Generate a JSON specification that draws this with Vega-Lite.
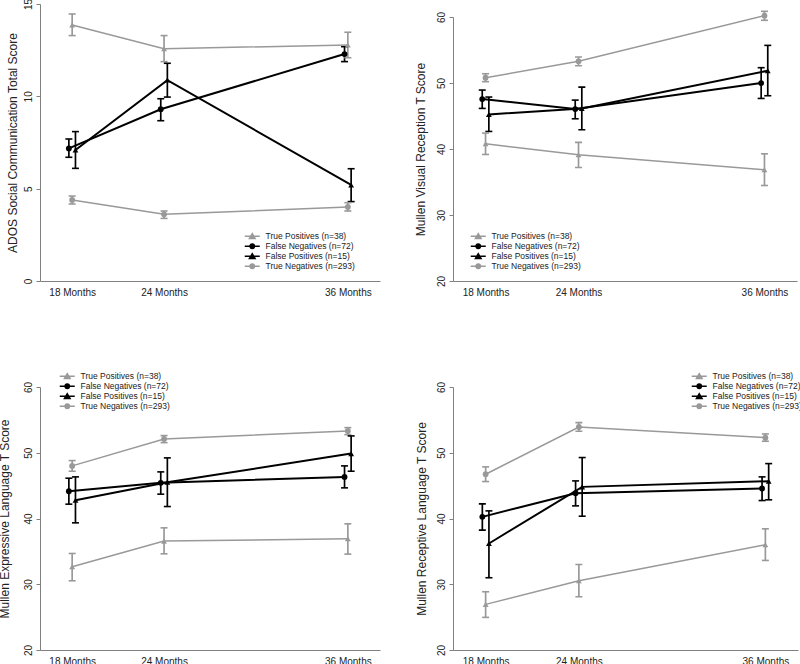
{
  "$schema": "https://vega.github.io/schema/vega-lite/v6.json",
  "background": "white",
  "padding": {"left": -2, "top": -2, "right": 0, "bottom": 0},
  "columns": 2,
  "align": "each",
  "spacing": {"row": 72, "column": 34},
  "datasets": {
    "p1": [
      {"group": "True Positives (n=38)", "month": 18, "mean": 13.86, "lo": 13.29, "hi": 14.46},
      {"group": "True Positives (n=38)", "month": 24, "mean": 12.58, "lo": 11.88, "hi": 13.29},
      {"group": "True Positives (n=38)", "month": 36, "mean": 12.78, "lo": 12.09, "hi": 13.47},
      {"group": "False Negatives (n=72)", "month": 18, "mean": 7.18, "lo": 6.70, "hi": 7.69},
      {"group": "False Negatives (n=72)", "month": 24, "mean": 9.30, "lo": 8.68, "hi": 9.87},
      {"group": "False Negatives (n=72)", "month": 36, "mean": 12.29, "lo": 11.88, "hi": 12.69},
      {"group": "False Positives (n=15)", "month": 18, "mean": 7.09, "lo": 6.10, "hi": 8.09},
      {"group": "False Positives (n=15)", "month": 24, "mean": 10.88, "lo": 9.96, "hi": 11.79},
      {"group": "False Positives (n=15)", "month": 36, "mean": 5.20, "lo": 4.30, "hi": 6.08},
      {"group": "True Negatives (n=293)", "month": 18, "mean": 4.39, "lo": 4.17, "hi": 4.60},
      {"group": "True Negatives (n=293)", "month": 24, "mean": 3.61, "lo": 3.39, "hi": 3.79},
      {"group": "True Negatives (n=293)", "month": 36, "mean": 4.01, "lo": 3.79, "hi": 4.24}
    ],
    "p2": [
      {"group": "True Positives (n=38)", "month": 18, "mean": 40.79, "lo": 39.17, "hi": 42.41},
      {"group": "True Positives (n=38)", "month": 24, "mean": 39.12, "lo": 37.2, "hi": 41.0},
      {"group": "True Positives (n=38)", "month": 36, "mean": 36.85, "lo": 34.47, "hi": 39.27},
      {"group": "False Negatives (n=72)", "month": 18, "mean": 47.56, "lo": 46.15, "hi": 48.93},
      {"group": "False Negatives (n=72)", "month": 24, "mean": 46.05, "lo": 44.58, "hi": 47.41},
      {"group": "False Negatives (n=72)", "month": 36, "mean": 49.99, "lo": 47.66, "hi": 52.32},
      {"group": "False Positives (n=15)", "month": 18, "mean": 45.24, "lo": 42.66, "hi": 47.87},
      {"group": "False Positives (n=15)", "month": 24, "mean": 46.15, "lo": 42.91, "hi": 49.38},
      {"group": "False Positives (n=15)", "month": 36, "mean": 51.86, "lo": 48.07, "hi": 55.70},
      {"group": "True Negatives (n=293)", "month": 18, "mean": 50.8, "lo": 50.2, "hi": 51.4},
      {"group": "True Negatives (n=293)", "month": 24, "mean": 53.28, "lo": 52.62, "hi": 53.93},
      {"group": "True Negatives (n=293)", "month": 36, "mean": 60.2, "lo": 59.5, "hi": 60.86}
    ],
    "p3": [
      {"group": "True Positives (n=38)", "month": 18, "mean": 32.66, "lo": 30.53, "hi": 34.68},
      {"group": "True Positives (n=38)", "month": 24, "mean": 36.56, "lo": 34.63, "hi": 38.58},
      {"group": "True Positives (n=38)", "month": 36, "mean": 36.91, "lo": 34.58, "hi": 39.19},
      {"group": "False Negatives (n=72)", "month": 18, "mean": 44.15, "lo": 42.18, "hi": 46.13},
      {"group": "False Negatives (n=72)", "month": 24, "mean": 45.42, "lo": 43.70, "hi": 47.09},
      {"group": "False Negatives (n=72)", "month": 36, "mean": 46.33, "lo": 44.66, "hi": 48.0},
      {"group": "False Positives (n=15)", "month": 18, "mean": 42.78, "lo": 39.34, "hi": 46.33},
      {"group": "False Positives (n=15)", "month": 24, "mean": 45.52, "lo": 41.82, "hi": 49.22},
      {"group": "False Positives (n=15)", "month": 36, "mean": 49.87, "lo": 47.19, "hi": 52.56},
      {"group": "True Negatives (n=293)", "month": 18, "mean": 48.0, "lo": 47.19, "hi": 48.81},
      {"group": "True Negatives (n=293)", "month": 24, "mean": 52.1, "lo": 51.54, "hi": 52.61},
      {"group": "True Negatives (n=293)", "month": 36, "mean": 53.32, "lo": 52.76, "hi": 53.82}
    ],
    "p4": [
      {"group": "True Positives (n=38)", "month": 18, "mean": 26.94, "lo": 24.96, "hi": 28.86},
      {"group": "True Positives (n=38)", "month": 24, "mean": 30.53, "lo": 28.10, "hi": 33.01},
      {"group": "True Positives (n=38)", "month": 36, "mean": 36.0, "lo": 33.62, "hi": 38.43},
      {"group": "False Negatives (n=72)", "month": 18, "mean": 40.25, "lo": 38.23, "hi": 42.23},
      {"group": "False Negatives (n=72)", "month": 24, "mean": 43.85, "lo": 41.92, "hi": 45.72},
      {"group": "False Negatives (n=72)", "month": 36, "mean": 44.56, "lo": 42.73, "hi": 46.33},
      {"group": "False Positives (n=15)", "month": 18, "mean": 36.20, "lo": 30.99, "hi": 41.16},
      {"group": "False Positives (n=15)", "month": 24, "mean": 44.81, "lo": 40.35, "hi": 49.27},
      {"group": "False Positives (n=15)", "month": 36, "mean": 45.67, "lo": 42.84, "hi": 48.35},
      {"group": "True Negatives (n=293)", "month": 18, "mean": 46.73, "lo": 45.62, "hi": 47.85},
      {"group": "True Negatives (n=293)", "month": 24, "mean": 53.92, "lo": 53.27, "hi": 54.58},
      {"group": "True Negatives (n=293)", "month": 36, "mean": 52.30, "lo": 51.75, "hi": 52.86}
    ]
  },
  "resolve": {
    "scale": {"color": "independent", "shape": "independent", "x": "independent", "y": "independent"},
    "legend": {"color": "independent", "shape": "independent"}
  },
  "concat": [
    {
      "width": 340, "height": 277,
      "data": {"name": "p1"},
      "encoding": {
        "x": {"field": "month", "type": "quantitative", "scale": {"domain": [15.9, 38.1], "nice": false, "zero": false},
              "axis": {"values": [18, 24, 36], "labelExpr": "datum.value + ' Months'", "ticks": false, "tickSize": 0, "labelPadding": 6, "title": null, "grid": false, "labelFlush": false, "labelOverlap": false}},
        "y": {"field": "mean", "type": "quantitative", "title": "ADOS Social Communication Total Score", "scale": {"domain": [0, 15], "nice": false, "zero": false},
           "axis": {"values": [0, 5, 10, 15], "tickSize": 4, "labelAngle": 270, "labelAlign": "center", "labelBaseline": "bottom", "labelPadding": 3, "titlePadding": 4, "grid": false}},
        "color": {"field": "group", "type": "nominal",
          "scale": {"domain": ["True Positives (n=38)", "False Negatives (n=72)", "False Positives (n=15)", "True Negatives (n=293)"], "range": ["#999999", "#000000", "#000000", "#999999"]},
          "legend": {"title": null, "orient": "none", "legendX": 208, "legendY": 228, "symbolSize": 36, "symbolStrokeWidth": 1.6, "symbolOpacity": 1, "labelFontSize": 8.5, "rowPadding": -2, "labelOffset": 9, "padding": 0}}
      },
      "layer": [
        {"mark": {"type": "rule", "strokeWidth": 1.7, "xOffset": {"expr": "indexof('' + datum.group,'False Neg')===0 ? -3.3 : indexof('' + datum.group,'False Pos')===0 ? 3.3 : 0"}},
         "encoding": {"y": {"field": "lo", "type": "quantitative", "title": "ADOS Social Communication Total Score"}, "y2": {"field": "hi"}}},
        {"mark": {"type": "tick", "orient": "horizontal", "size": 7, "thickness": 1.6, "opacity": 1, "xOffset": {"expr": "indexof('' + datum.group,'False Neg')===0 ? -3.3 : indexof('' + datum.group,'False Pos')===0 ? 3.3 : 0"}},
         "encoding": {"y": {"field": "lo", "type": "quantitative", "title": "ADOS Social Communication Total Score"}}},
        {"mark": {"type": "tick", "orient": "horizontal", "size": 7, "thickness": 1.6, "opacity": 1, "xOffset": {"expr": "indexof('' + datum.group,'False Neg')===0 ? -3.3 : indexof('' + datum.group,'False Pos')===0 ? 3.3 : 0"}},
         "encoding": {"y": {"field": "hi", "type": "quantitative", "title": "ADOS Social Communication Total Score"}}},
        {"transform": [{"filter": {"field": "group", "oneOf": ["True Positives (n=38)", "True Negatives (n=293)"]}}],
         "mark": {"type": "line", "strokeWidth": 1.5}},
        {"transform": [{"filter": {"field": "group", "oneOf": ["False Negatives (n=72)", "False Positives (n=15)"]}}],
         "mark": {"type": "line", "strokeWidth": 2, "xOffset": {"expr": "indexof('' + datum.group,'False Neg')===0 ? -3.3 : 3.3"}}},
        {"transform": [{"filter": {"field": "group", "oneOf": ["True Positives (n=38)", "False Positives (n=15)"]}}],
         "mark": {"type": "point", "shape": "triangle-up", "filled": true, "opacity": 1, "size": 34, "strokeWidth": 0, "xOffset": {"expr": "indexof('' + datum.group,'False Pos')===0 ? 3.3 : 0"}}},
        {"transform": [{"filter": {"field": "group", "oneOf": ["False Negatives (n=72)", "True Negatives (n=293)"]}}],
         "mark": {"type": "point", "shape": "circle", "filled": true, "opacity": 1, "size": 34, "strokeWidth": 0, "xOffset": {"expr": "indexof('' + datum.group,'False Neg')===0 ? -3.3 : 0"}}},
        {"mark": {"type": "point", "filled": true, "opacity": 0, "size": 1},
         "encoding": {"shape": {"field": "group", "type": "nominal",
           "scale": {"domain": ["True Positives (n=38)", "False Negatives (n=72)", "False Positives (n=15)", "True Negatives (n=293)"], "range": ["M-2.5,0H2.5M-0.9,0.7L0,-0.8L0.9,0.7Z", "M-2.5,0H2.5M-0.7,0A0.7,0.7,0,1,0,0.7,0A0.7,0.7,0,1,0,-0.7,0Z", "M-2.5,0H2.5M-0.9,0.7L0,-0.8L0.9,0.7Z", "M-2.5,0H2.5M-0.7,0A0.7,0.7,0,1,0,0.7,0A0.7,0.7,0,1,0,-0.7,0Z"]},
           "legend": {"title": null, "orient": "none", "legendX": 208, "legendY": 228, "symbolSize": 36, "symbolStrokeWidth": 1.6, "symbolOpacity": 1, "labelFontSize": 8.5, "rowPadding": -2, "labelOffset": 9, "padding": 0}}}}
      ]
    },
    {
      "width": 344, "height": 277,
      "data": {"name": "p2"},
      "encoding": {
        "x": {"field": "month", "type": "quantitative", "scale": {"domain": [15.9, 38.1], "nice": false, "zero": false},
              "axis": {"values": [18, 24, 36], "labelExpr": "datum.value + ' Months'", "ticks": false, "tickSize": 0, "labelPadding": 6, "title": null, "grid": false, "labelFlush": false, "labelOverlap": false}},
        "y": {"field": "mean", "type": "quantitative", "title": "Mullen Visual Reception T Score", "scale": {"domain": [20, 60], "nice": false, "zero": false, "range": [277, 13]},
           "axis": {"values": [20, 30, 40, 50, 60], "tickSize": 4, "labelAngle": 270, "labelAlign": "center", "labelBaseline": "bottom", "labelPadding": 3, "titlePadding": 9, "grid": false}},
        "color": {"field": "group", "type": "nominal",
          "scale": {"domain": ["True Positives (n=38)", "False Negatives (n=72)", "False Positives (n=15)", "True Negatives (n=293)"], "range": ["#999999", "#000000", "#000000", "#999999"]},
          "legend": {"title": null, "orient": "none", "legendX": 21, "legendY": 228, "symbolSize": 36, "symbolStrokeWidth": 1.6, "symbolOpacity": 1, "labelFontSize": 8.5, "rowPadding": -2, "labelOffset": 9, "padding": 0}}
      },
      "layer": [
        {"mark": {"type": "rule", "strokeWidth": 1.7, "xOffset": {"expr": "indexof('' + datum.group,'False Neg')===0 ? -3.3 : indexof('' + datum.group,'False Pos')===0 ? 3.3 : 0"}},
         "encoding": {"y": {"field": "lo", "type": "quantitative", "title": "Mullen Visual Reception T Score"}, "y2": {"field": "hi"}}},
        {"mark": {"type": "tick", "orient": "horizontal", "size": 7, "thickness": 1.6, "opacity": 1, "xOffset": {"expr": "indexof('' + datum.group,'False Neg')===0 ? -3.3 : indexof('' + datum.group,'False Pos')===0 ? 3.3 : 0"}},
         "encoding": {"y": {"field": "lo", "type": "quantitative", "title": "Mullen Visual Reception T Score"}}},
        {"mark": {"type": "tick", "orient": "horizontal", "size": 7, "thickness": 1.6, "opacity": 1, "xOffset": {"expr": "indexof('' + datum.group,'False Neg')===0 ? -3.3 : indexof('' + datum.group,'False Pos')===0 ? 3.3 : 0"}},
         "encoding": {"y": {"field": "hi", "type": "quantitative", "title": "Mullen Visual Reception T Score"}}},
        {"transform": [{"filter": {"field": "group", "oneOf": ["True Positives (n=38)", "True Negatives (n=293)"]}}],
         "mark": {"type": "line", "strokeWidth": 1.5}},
        {"transform": [{"filter": {"field": "group", "oneOf": ["False Negatives (n=72)", "False Positives (n=15)"]}}],
         "mark": {"type": "line", "strokeWidth": 2, "xOffset": {"expr": "indexof('' + datum.group,'False Neg')===0 ? -3.3 : 3.3"}}},
        {"transform": [{"filter": {"field": "group", "oneOf": ["True Positives (n=38)", "False Positives (n=15)"]}}],
         "mark": {"type": "point", "shape": "triangle-up", "filled": true, "opacity": 1, "size": 34, "strokeWidth": 0, "xOffset": {"expr": "indexof('' + datum.group,'False Pos')===0 ? 3.3 : 0"}}},
        {"transform": [{"filter": {"field": "group", "oneOf": ["False Negatives (n=72)", "True Negatives (n=293)"]}}],
         "mark": {"type": "point", "shape": "circle", "filled": true, "opacity": 1, "size": 34, "strokeWidth": 0, "xOffset": {"expr": "indexof('' + datum.group,'False Neg')===0 ? -3.3 : 0"}}},
        {"mark": {"type": "point", "filled": true, "opacity": 0, "size": 1},
         "encoding": {"shape": {"field": "group", "type": "nominal",
           "scale": {"domain": ["True Positives (n=38)", "False Negatives (n=72)", "False Positives (n=15)", "True Negatives (n=293)"], "range": ["M-2.5,0H2.5M-0.9,0.7L0,-0.8L0.9,0.7Z", "M-2.5,0H2.5M-0.7,0A0.7,0.7,0,1,0,0.7,0A0.7,0.7,0,1,0,-0.7,0Z", "M-2.5,0H2.5M-0.9,0.7L0,-0.8L0.9,0.7Z", "M-2.5,0H2.5M-0.7,0A0.7,0.7,0,1,0,0.7,0A0.7,0.7,0,1,0,-0.7,0Z"]},
           "legend": {"title": null, "orient": "none", "legendX": 21, "legendY": 228, "symbolSize": 36, "symbolStrokeWidth": 1.6, "symbolOpacity": 1, "labelFontSize": 8.5, "rowPadding": -2, "labelOffset": 9, "padding": 0}}}}
      ]
    },
    {
      "width": 340, "height": 281,
      "data": {"name": "p3"},
      "encoding": {
        "x": {"field": "month", "type": "quantitative", "scale": {"domain": [15.9, 38.1], "nice": false, "zero": false},
              "axis": {"values": [18, 24, 36], "labelExpr": "datum.value + ' Months'", "ticks": false, "tickSize": 0, "labelPadding": 6, "title": null, "grid": false, "labelFlush": false, "labelOverlap": false}},
        "y": {"field": "mean", "type": "quantitative", "title": "Mullen Expressive Language T Score", "scale": {"domain": [20, 60], "nice": false, "zero": false, "range": [281, 18]},
           "axis": {"values": [20, 30, 40, 50, 60], "tickSize": 4, "labelAngle": 270, "labelAlign": "center", "labelBaseline": "bottom", "labelPadding": 3, "titlePadding": 12, "grid": false}},
        "color": {"field": "group", "type": "nominal",
          "scale": {"domain": ["True Positives (n=38)", "False Negatives (n=72)", "False Positives (n=15)", "True Negatives (n=293)"], "range": ["#999999", "#000000", "#000000", "#999999"]},
          "legend": {"title": null, "orient": "none", "legendX": 23, "legendY": 3, "symbolSize": 36, "symbolStrokeWidth": 1.6, "symbolOpacity": 1, "labelFontSize": 8.5, "rowPadding": -2, "labelOffset": 9, "padding": 0}}
      },
      "layer": [
        {"mark": {"type": "rule", "strokeWidth": 1.7, "xOffset": {"expr": "indexof('' + datum.group,'False Neg')===0 ? -3.3 : indexof('' + datum.group,'False Pos')===0 ? 3.3 : 0"}},
         "encoding": {"y": {"field": "lo", "type": "quantitative", "title": "Mullen Expressive Language T Score"}, "y2": {"field": "hi"}}},
        {"mark": {"type": "tick", "orient": "horizontal", "size": 7, "thickness": 1.6, "opacity": 1, "xOffset": {"expr": "indexof('' + datum.group,'False Neg')===0 ? -3.3 : indexof('' + datum.group,'False Pos')===0 ? 3.3 : 0"}},
         "encoding": {"y": {"field": "lo", "type": "quantitative", "title": "Mullen Expressive Language T Score"}}},
        {"mark": {"type": "tick", "orient": "horizontal", "size": 7, "thickness": 1.6, "opacity": 1, "xOffset": {"expr": "indexof('' + datum.group,'False Neg')===0 ? -3.3 : indexof('' + datum.group,'False Pos')===0 ? 3.3 : 0"}},
         "encoding": {"y": {"field": "hi", "type": "quantitative", "title": "Mullen Expressive Language T Score"}}},
        {"transform": [{"filter": {"field": "group", "oneOf": ["True Positives (n=38)", "True Negatives (n=293)"]}}],
         "mark": {"type": "line", "strokeWidth": 1.5}},
        {"transform": [{"filter": {"field": "group", "oneOf": ["False Negatives (n=72)", "False Positives (n=15)"]}}],
         "mark": {"type": "line", "strokeWidth": 2, "xOffset": {"expr": "indexof('' + datum.group,'False Neg')===0 ? -3.3 : 3.3"}}},
        {"transform": [{"filter": {"field": "group", "oneOf": ["True Positives (n=38)", "False Positives (n=15)"]}}],
         "mark": {"type": "point", "shape": "triangle-up", "filled": true, "opacity": 1, "size": 34, "strokeWidth": 0, "xOffset": {"expr": "indexof('' + datum.group,'False Pos')===0 ? 3.3 : 0"}}},
        {"transform": [{"filter": {"field": "group", "oneOf": ["False Negatives (n=72)", "True Negatives (n=293)"]}}],
         "mark": {"type": "point", "shape": "circle", "filled": true, "opacity": 1, "size": 34, "strokeWidth": 0, "xOffset": {"expr": "indexof('' + datum.group,'False Neg')===0 ? -3.3 : 0"}}},
        {"mark": {"type": "point", "filled": true, "opacity": 0, "size": 1},
         "encoding": {"shape": {"field": "group", "type": "nominal",
           "scale": {"domain": ["True Positives (n=38)", "False Negatives (n=72)", "False Positives (n=15)", "True Negatives (n=293)"], "range": ["M-2.5,0H2.5M-0.9,0.7L0,-0.8L0.9,0.7Z", "M-2.5,0H2.5M-0.7,0A0.7,0.7,0,1,0,0.7,0A0.7,0.7,0,1,0,-0.7,0Z", "M-2.5,0H2.5M-0.9,0.7L0,-0.8L0.9,0.7Z", "M-2.5,0H2.5M-0.7,0A0.7,0.7,0,1,0,0.7,0A0.7,0.7,0,1,0,-0.7,0Z"]},
           "legend": {"title": null, "orient": "none", "legendX": 23, "legendY": 3, "symbolSize": 36, "symbolStrokeWidth": 1.6, "symbolOpacity": 1, "labelFontSize": 8.5, "rowPadding": -2, "labelOffset": 9, "padding": 0}}}}
      ]
    },
    {
      "width": 345, "height": 281,
      "data": {"name": "p4"},
      "encoding": {
        "x": {"field": "month", "type": "quantitative", "scale": {"domain": [15.9, 38.1], "nice": false, "zero": false},
              "axis": {"values": [18, 24, 36], "labelExpr": "datum.value + ' Months'", "ticks": false, "tickSize": 0, "labelPadding": 6, "title": null, "grid": false, "labelFlush": false, "labelOverlap": false}},
        "y": {"field": "mean", "type": "quantitative", "title": "Mullen Receptive Language T Score", "scale": {"domain": [20, 60], "nice": false, "zero": false, "range": [281, 18]},
           "axis": {"values": [20, 30, 40, 50, 60], "tickSize": 4, "labelAngle": 270, "labelAlign": "center", "labelBaseline": "bottom", "labelPadding": 3, "titlePadding": 8, "grid": false}},
        "color": {"field": "group", "type": "nominal",
          "scale": {"domain": ["True Positives (n=38)", "False Negatives (n=72)", "False Positives (n=15)", "True Negatives (n=293)"], "range": ["#999999", "#000000", "#000000", "#999999"]},
          "legend": {"title": null, "orient": "none", "legendX": 242, "legendY": 3, "symbolSize": 36, "symbolStrokeWidth": 1.6, "symbolOpacity": 1, "labelFontSize": 8.5, "rowPadding": -2, "labelOffset": 9, "padding": 0}}
      },
      "layer": [
        {"mark": {"type": "rule", "strokeWidth": 1.7, "xOffset": {"expr": "indexof('' + datum.group,'False Neg')===0 ? -3.3 : indexof('' + datum.group,'False Pos')===0 ? 3.3 : 0"}},
         "encoding": {"y": {"field": "lo", "type": "quantitative", "title": "Mullen Receptive Language T Score"}, "y2": {"field": "hi"}}},
        {"mark": {"type": "tick", "orient": "horizontal", "size": 7, "thickness": 1.6, "opacity": 1, "xOffset": {"expr": "indexof('' + datum.group,'False Neg')===0 ? -3.3 : indexof('' + datum.group,'False Pos')===0 ? 3.3 : 0"}},
         "encoding": {"y": {"field": "lo", "type": "quantitative", "title": "Mullen Receptive Language T Score"}}},
        {"mark": {"type": "tick", "orient": "horizontal", "size": 7, "thickness": 1.6, "opacity": 1, "xOffset": {"expr": "indexof('' + datum.group,'False Neg')===0 ? -3.3 : indexof('' + datum.group,'False Pos')===0 ? 3.3 : 0"}},
         "encoding": {"y": {"field": "hi", "type": "quantitative", "title": "Mullen Receptive Language T Score"}}},
        {"transform": [{"filter": {"field": "group", "oneOf": ["True Positives (n=38)", "True Negatives (n=293)"]}}],
         "mark": {"type": "line", "strokeWidth": 1.5}},
        {"transform": [{"filter": {"field": "group", "oneOf": ["False Negatives (n=72)", "False Positives (n=15)"]}}],
         "mark": {"type": "line", "strokeWidth": 2, "xOffset": {"expr": "indexof('' + datum.group,'False Neg')===0 ? -3.3 : 3.3"}}},
        {"transform": [{"filter": {"field": "group", "oneOf": ["True Positives (n=38)", "False Positives (n=15)"]}}],
         "mark": {"type": "point", "shape": "triangle-up", "filled": true, "opacity": 1, "size": 34, "strokeWidth": 0, "xOffset": {"expr": "indexof('' + datum.group,'False Pos')===0 ? 3.3 : 0"}}},
        {"transform": [{"filter": {"field": "group", "oneOf": ["False Negatives (n=72)", "True Negatives (n=293)"]}}],
         "mark": {"type": "point", "shape": "circle", "filled": true, "opacity": 1, "size": 34, "strokeWidth": 0, "xOffset": {"expr": "indexof('' + datum.group,'False Neg')===0 ? -3.3 : 0"}}},
        {"mark": {"type": "point", "filled": true, "opacity": 0, "size": 1},
         "encoding": {"shape": {"field": "group", "type": "nominal",
           "scale": {"domain": ["True Positives (n=38)", "False Negatives (n=72)", "False Positives (n=15)", "True Negatives (n=293)"], "range": ["M-2.5,0H2.5M-0.9,0.7L0,-0.8L0.9,0.7Z", "M-2.5,0H2.5M-0.7,0A0.7,0.7,0,1,0,0.7,0A0.7,0.7,0,1,0,-0.7,0Z", "M-2.5,0H2.5M-0.9,0.7L0,-0.8L0.9,0.7Z", "M-2.5,0H2.5M-0.7,0A0.7,0.7,0,1,0,0.7,0A0.7,0.7,0,1,0,-0.7,0Z"]},
           "legend": {"title": null, "orient": "none", "legendX": 242, "legendY": 3, "symbolSize": 36, "symbolStrokeWidth": 1.6, "symbolOpacity": 1, "labelFontSize": 8.5, "rowPadding": -2, "labelOffset": 9, "padding": 0}}}}
      ]
    }
  ],
  "config": {
    "font": "Liberation Sans",
    "view": {"stroke": null},
    "axis": {"domainColor": "#808080", "tickColor": "#808080", "labelColor": "#222222", "titleColor": "#222222", "labelFontSize": 10, "titleFontSize": 12, "titleFontWeight": "normal", "labelFont": "Liberation Sans", "titleFont": "Liberation Sans"},
    "legend": {"labelColor": "#222222", "labelFont": "Liberation Sans"}
  }
}
